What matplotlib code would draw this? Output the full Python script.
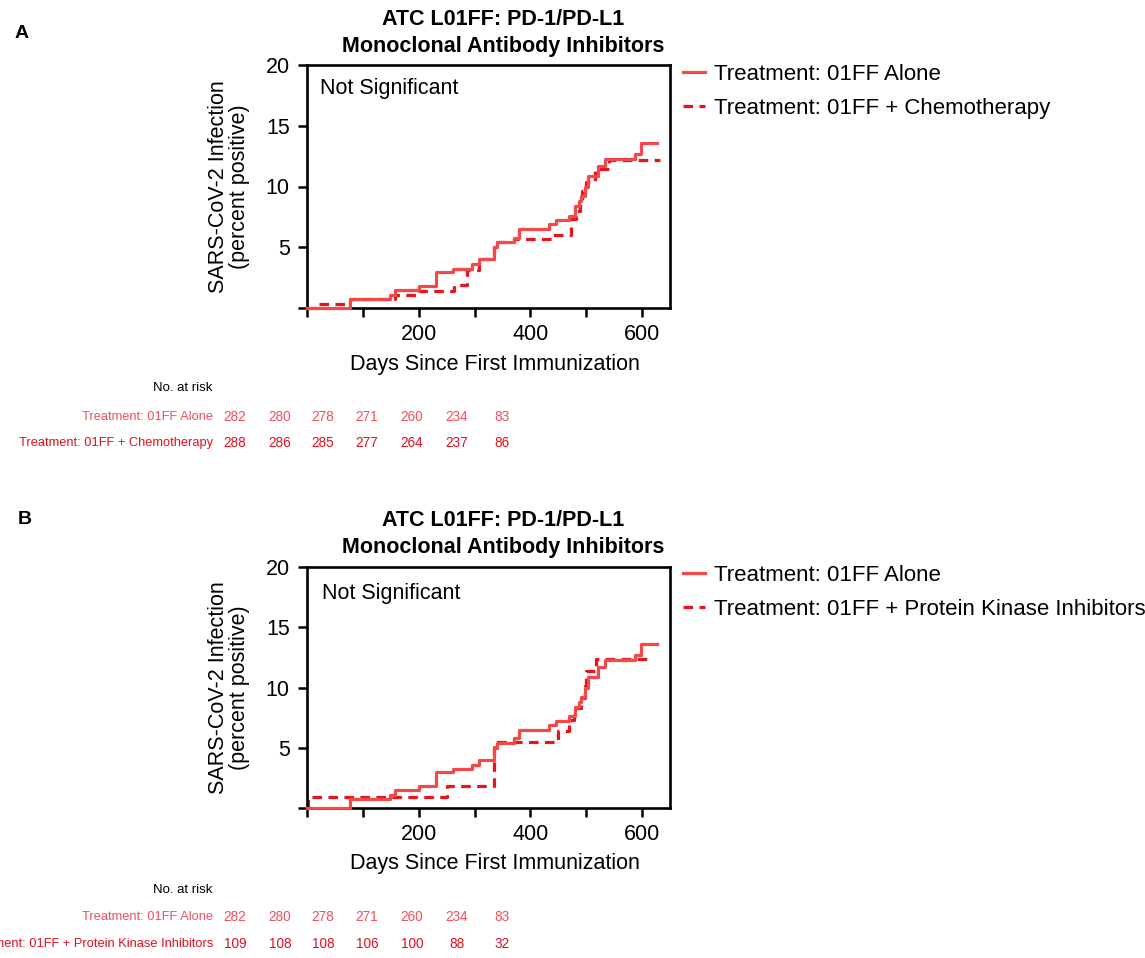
import matplotlib
matplotlib.use("Agg")
import matplotlib.pyplot as plt
from matplotlib.lines import Line2D

plt.rcParams['font.family'] = ['Liberation Sans', 'DejaVu Sans']

W, H = 1145, 958

# ---------------- data ----------------
alone_days = [0, 77, 149, 158, 200, 231, 261, 296, 308, 335, 341, 371, 380, 434, 446,
              469, 480, 487, 491, 497, 503, 521, 533, 587, 598, 627]
alone_pct = [0, 0.74, 1.1, 1.5, 1.85, 2.95, 3.2, 3.6, 4.0, 5.0, 5.4, 5.8, 6.5, 6.9, 7.25,
             7.6, 8.4, 8.8, 9.2, 10.0, 10.9, 11.7, 12.25, 12.7, 13.6, 13.6]

chemo_days = [0, 20, 77, 158, 200, 263, 287, 308, 335, 341, 371, 440, 473, 481, 488,
              493, 500, 515, 541, 632]
chemo_pct = [0, 0.36, 0.72, 1.1, 1.4, 1.93, 3.15, 4.0, 5.0, 5.4, 5.65, 6.0, 7.3, 8.0, 8.8,
             9.6, 10.4, 11.4, 12.15, 12.15]

pki_days = [0, 2, 251, 334, 449, 470, 478, 490, 497, 500, 518, 620]
pki_pct = [0, 0.92, 1.85, 5.5, 6.42, 7.34, 8.26, 9.17, 10.1, 11.4, 12.4, 12.4]

risk_alone = [282, 280, 278, 271, 260, 234, 83]
risk_chemo = [288, 286, 285, 277, 264, 237, 86]
risk_pki = [109, 108, 108, 106, 100, 88, 32]

title = "ATC L01FF: PD-1/PD-L1\nMonoclonal Antibody Inhibitors"
label_alone = "Treatment: 01FF Alone"
label_chemo = "Treatment: 01FF + Chemotherapy"
label_pki = "Treatment: 01FF + Protein Kinase Inhibitors"

x_ticks = [0, 200, 400, 600]
x_tick_labels = ["", "200", "400", "600"]
x_minor = [100, 300, 500]
y_ticks = [0, 5, 10, 15, 20]
y_tick_labels = ["", "5", "10", "15", "20"]

# ---------------- style ----------------
C_SOLID = "#F24A4A"
C_DASH = "#E8141C"
C_ROW1 = "#F0505A"
C_ROW2 = "#E01020"
FS = 15.5
RFS = 9.3
NFS = 9.8

fig = plt.figure(figsize=(W / 100, H / 100), dpi=100)


def fx(px):
    return px / W


def fy(py):
    return 1 - py / H


def panel(top, bottom, letter, letter_xy, dash_days, dash_pct, dash_label, risk2,
          ns_xy, title_top, leg_top, risk_y):
    ax = fig.add_axes([fx(307), fy(bottom), fx(670) - fx(307), fy(top) - fy(bottom)])
    ax.step(alone_days, alone_pct, where='post', color=C_SOLID, lw=2.3, zorder=3,
            clip_on=False)
    ax.step(dash_days, dash_pct, where='post', color=C_DASH, lw=2.3,
            ls=(0, (3, 2)), zorder=2, clip_on=False)
    ax.set_xlim(0, 650)
    ax.set_ylim(0, 20)
    ax.set_xticks(x_ticks)
    ax.set_xticklabels(x_tick_labels)
    ax.set_xticks(x_minor, minor=True)
    ax.set_yticks(y_ticks)
    ax.set_yticklabels(y_tick_labels)
    for s in ax.spines.values():
        s.set_linewidth(1.9)
    ax.tick_params(axis='both', which='major', length=6.5, width=1.8, labelsize=FS)
    ax.tick_params(axis='x', which='minor', length=6.5, width=1.8)
    ax.tick_params(axis='x', pad=5)
    ax.tick_params(axis='y', pad=6)
    ax.text(ns_xy[0], ns_xy[1], "Not Significant", transform=ax.transAxes,
            fontsize=FS, ha='left', va='center')

    # title
    fig.text(fx(503), fy(title_top), title, ha='center', va='top', fontsize=FS,
             fontweight='bold', linespacing=1.38)
    # y label
    fig.text(fx(229), fy((top + bottom) / 2), "SARS-CoV-2 Infection\n(percent positive)",
             rotation=90, ha='center', va='center', fontsize=FS, multialignment='center',
             linespacing=1.05)
    # x label
    fig.text(fx(495), fy(bottom + 56), "Days Since First Immunization", ha='center',
             va='center', fontsize=FS)
    # letter
    fig.text(fx(letter_xy[0]), fy(letter_xy[1]), letter, fontsize=14, fontweight='bold',
             ha='center', va='center')

    # legend
    handles = [Line2D([], [], color=C_SOLID, lw=2.3),
               Line2D([], [], color=C_DASH, lw=2.3, ls=(0, (3, 2)))]
    fig.legend(handles, [label_alone, dash_label], loc='upper left',
               bbox_to_anchor=(fx(683), fy(leg_top)), frameon=False, fontsize=16,
               handlelength=1.0, handletextpad=0.4, labelspacing=0.58, borderpad=0,
               borderaxespad=0)

    # risk table
    cols = [235, 280, 323, 367, 412, 457, 502]
    fig.text(fx(212), fy(risk_y[0]), "No. at risk", ha='right', va='center',
             fontsize=RFS + 0.2, color='black')
    fig.text(fx(213), fy(risk_y[1]), label_alone, ha='right', va='center',
             fontsize=RFS, color=C_ROW1)
    fig.text(fx(213), fy(risk_y[2]), dash_label, ha='right', va='center',
             fontsize=RFS, color=C_ROW2)
    for cx, v1, v2 in zip(cols, risk_alone, risk2):
        fig.text(fx(cx), fy(risk_y[1]), str(v1), ha='center', va='center',
                 fontsize=NFS, color=C_ROW1)
        fig.text(fx(cx), fy(risk_y[2]), str(v2), ha='center', va='center',
                 fontsize=NFS, color=C_ROW2)
    return ax


panel(65, 308, "A", (22, 33), chemo_days, chemo_pct, label_chemo, risk_chemo,
      (0.036, 0.905), 9, 64, (388, 417, 443))
panel(567, 808, "B", (25, 520), pki_days, pki_pct, label_pki, risk_pki,
      (0.041, 0.888), 510, 565, (890, 917, 944))

fig.savefig("out.png", dpi=100)
